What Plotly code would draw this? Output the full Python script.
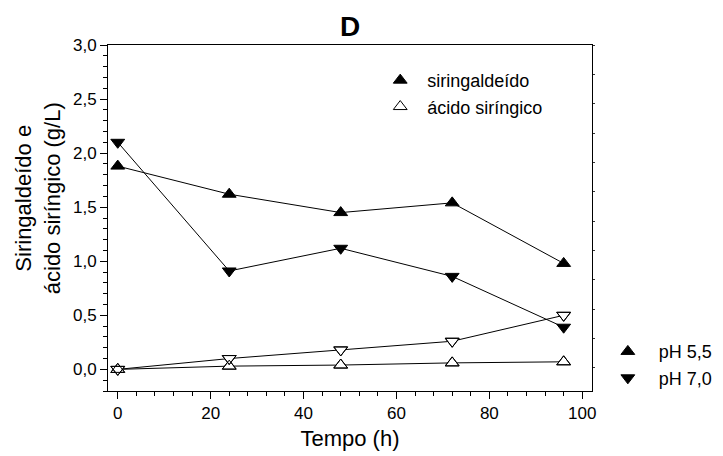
import plotly.graph_objects as go

# Tempo de cultivo (h)
tempo = [0, 24, 48, 72, 96]

# Siringaldeído (g/L)
siringaldeido_ph55 = [1.88, 1.62, 1.45, 1.54, 0.98]
siringaldeido_ph70 = [2.10, 0.91, 1.12, 0.86, 0.39]

# Ácido siríngico (g/L)
acido_ph55 = [0.00, 0.03, 0.04, 0.06, 0.07]
acido_ph70 = [0.00, 0.10, 0.18, 0.26, 0.50]

y_ticks = [0.0, 0.5, 1.0, 1.5, 2.0, 2.5, 3.0]
x_ticks = [0, 20, 40, 60, 80, 100]

FONT = "Liberation Sans, Arial, Helvetica, sans-serif"
BLACK = "#000000"
MSIZE = 12

fig = go.Figure()


def series(y, symbol, fill):
    fig.add_trace(go.Scatter(
        x=tempo, y=y, mode="lines+markers", showlegend=False,
        line=dict(color=BLACK, width=1),
        marker=dict(symbol=symbol, size=MSIZE, color=fill,
                    line=dict(color=BLACK, width=1)),
        hoverinfo="x+y",
    ))


# open symbols (syringic acid) with white fill to hide the connecting lines
series(acido_ph55, "triangle-up", "white")
series(acido_ph70, "triangle-down", "white")
# outlines redrawn on top so overlapping symbols stay visible
for y, sym in ((acido_ph55, "triangle-up-open"), (acido_ph70, "triangle-down-open")):
    fig.add_trace(go.Scatter(
        x=tempo, y=y, mode="markers", showlegend=False, hoverinfo="skip",
        marker=dict(symbol=sym, size=MSIZE, color=BLACK, line=dict(color=BLACK, width=1)),
    ))
series(siringaldeido_ph55, "triangle-up", BLACK)
series(siringaldeido_ph70, "triangle-down", BLACK)


def legend_entry(name, symbol, fill, legend, yaxis="y"):
    fig.add_trace(go.Scatter(
        x=[None], y=[None], mode="markers", name=name, legend=legend, yaxis=yaxis,
        marker=dict(symbol=symbol, size=MSIZE, color=fill, line=dict(color=BLACK, width=1)),
    ))


legend_entry("siringaldeído", "triangle-up", BLACK, "legend")
legend_entry("ácido siríngico", "triangle-up", "white", "legend")
legend_entry("pH 5,5", "triangle-up", BLACK, "legend2", yaxis="y2")
legend_entry("pH 7,0", "triangle-down", BLACK, "legend2", yaxis="y2")

axis_common = dict(
    showline=True, linecolor=BLACK, linewidth=1, mirror=True,
    showgrid=False, zeroline=False,
    ticks="outside", ticklen=7, tickwidth=1, tickcolor=BLACK,
    tickfont=dict(family=FONT, size=17, color=BLACK),
)

fig.update_layout(
    width=723, height=456,
    margin=dict(l=108, r=131, t=45, b=65, autoexpand=False),
    paper_bgcolor="white", plot_bgcolor="white",
    separators=",.",
    font=dict(family=FONT, color=BLACK),
    title=dict(text="<b>D</b>", x=0.5, xref="paper", xanchor="center",
               y=1 - 26 / 456, yref="container", yanchor="middle",
               font=dict(family=FONT, size=28, color=BLACK)),
    xaxis=dict(
        range=[-2.1, 102.1], tickmode="array", tickvals=x_ticks,
        minor=dict(dtick=4, tick0=0, ticks="outside", ticklen=4, tickcolor=BLACK),
        title=dict(text="Tempo (h)", standoff=8,
                   font=dict(family=FONT, size=22, color=BLACK)),
        **axis_common,
    ),
    yaxis=dict(
        range=[-0.2, 3.0], tickmode="array", tickvals=y_ticks, tickformat=".1f",
        minor=dict(dtick=0.1, tick0=0, ticks="outside", ticklen=4, tickcolor=BLACK),
        **axis_common,
    ),
    yaxis2=dict(
        overlaying="y", side="right", range=[-0.784, 11], dtick=1, tick0=0,
        ticks="outside", ticklen=2, tickcolor="#333333",
        showticklabels=False, showgrid=False, zeroline=False, showline=False,
    ),
    legend=dict(
        x=0.548, y=0.951, xanchor="left", yanchor="top",
        bgcolor="rgba(0,0,0,0)", borderwidth=0, itemwidth=44,
        font=dict(family=FONT, size=18, color=BLACK), valign="bottom",
    ),
    legend2=dict(
        x=1.01, y=0.167, xanchor="left", yanchor="top",
        bgcolor="rgba(0,0,0,0)", borderwidth=0, itemwidth=52,
        font=dict(family=FONT, size=18, color=BLACK),
    ),
    annotations=[dict(
        text="Siringaldeído e<br>ácido siríngico (g/L)",
        xref="paper", yref="paper", x=-0.144, y=0.558,
        xanchor="center", yanchor="middle", textangle=-90, showarrow=False,
        font=dict(family=FONT, size=22, color=BLACK),
    )],
)

fig.write_html("out.html")
